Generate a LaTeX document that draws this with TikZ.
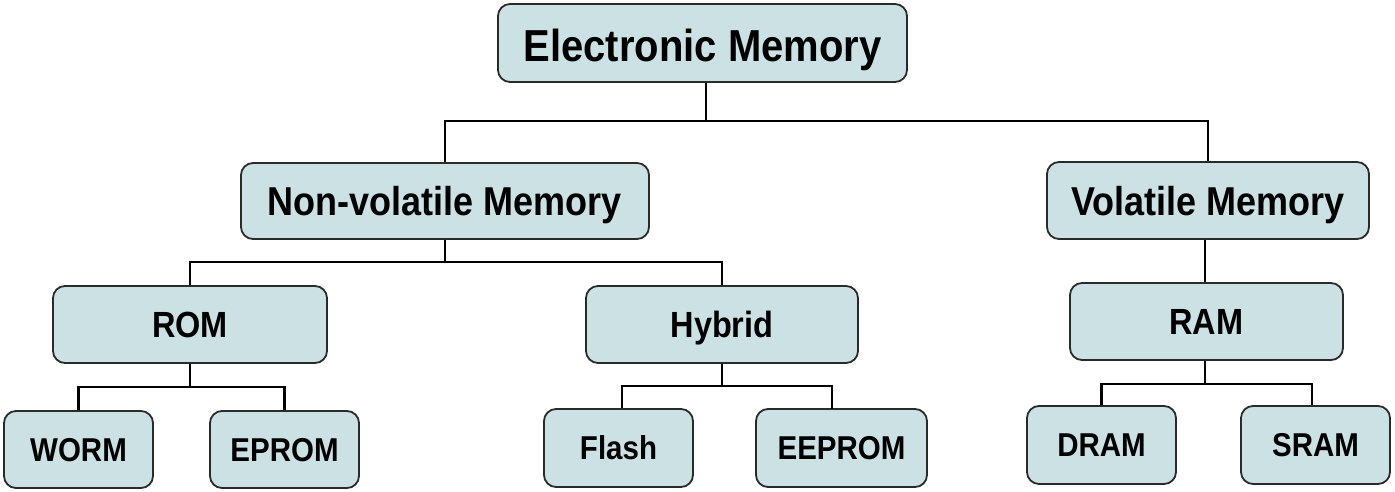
\documentclass[tikz,border=0pt]{standalone}
\usepackage{graphicx}
\usepackage{fontspec}
\setmainfont{Liberation Sans}
\definecolor{boxfill}{HTML}{CCE1E4}
\definecolor{boxline}{HTML}{2A2A2A}
\newcommand{\tallt}[1]{\scalebox{1}[1.12]{#1}}
\begin{document}
\begin{tikzpicture}[x=1pt,y=-1pt,
  box/.style={draw=boxline, fill=boxfill, line width=1.8pt, rounded corners=12pt,
    inner sep=0pt, align=center, text depth=0pt, font=\bfseries},
  lvlA/.style={box, font=\fontsize{40}{44}\selectfont\bfseries},
  lvlB/.style={box, font=\fontsize{36}{40}\selectfont\bfseries},
  lvlC/.style={box, font=\fontsize{32.5}{36}\selectfont\bfseries},
  lvlD/.style={box, font=\fontsize{29.5}{34}\selectfont\bfseries},
  conn/.style={draw=black, line width=2.2pt}]
\useasboundingbox (0,0) rectangle (1395,492);
\node[lvlA, minimum width=409pt, minimum height=78pt] (EM) at (702.5,43) {\raisebox{-5pt}{\tallt{Electronic Memory}}};
\node[lvlB, minimum width=408pt, minimum height=76pt] (NV) at (445,201) {\tallt{Non-volatile Memory}};
\node[lvlB, minimum width=322pt, minimum height=77pt] (VM) at (1208,200.5) {\tallt{Volatile Memory}};
\node[lvlC, minimum width=274pt, minimum height=77pt] (ROM) at (190,324.5) {\tallt{ROM}};
\node[lvlC, minimum width=272pt, minimum height=77pt] (HY) at (722,324.5) {\tallt{Hybrid}};
\node[lvlC, minimum width=273pt, minimum height=77pt] (RAM) at (1206.5,321.5) {\tallt{RAM}};
\node[lvlD, minimum width=149pt, minimum height=77pt] (WORM) at (78.5,449.5) {\tallt{WORM}};
\node[lvlD, minimum width=149pt, minimum height=77pt] (EPROM) at (284.5,449.5) {\tallt{EPROM}};
\node[lvlD, minimum width=149pt, minimum height=78pt] (FL) at (618.5,448) {\tallt{Flash}};
\node[lvlD, minimum width=171pt, minimum height=78pt] (EE) at (841.5,448) {\tallt{EEPROM}};
\node[lvlD, minimum width=149pt, minimum height=78pt] (DRAM) at (1101.5,445) {\tallt{DRAM}};
\node[lvlD, minimum width=149pt, minimum height=78pt] (SRAM) at (1315.5,445) {\tallt{SRAM}};
% bus coordinates
\coordinate (b1) at (706,121);
\coordinate (b2) at (446,262);
\coordinate (bR) at (191,387);
\coordinate (bH) at (723,386);
\coordinate (bM) at (1205,384);
\coordinate (eeTop) at (832,409);
% connectors
\draw[conn] (EM.south -| b1) -- (b1);
\draw[conn] (NV.north) |- (b1) -| (VM.north);
\draw[conn] (NV.south) -- (NV.south |- b2);
\draw[conn] (ROM.north) |- (b2) -| (HY.north);
\draw[conn] (VM.south -| bM) -- (RAM.north -| bM);
\draw[conn] (ROM.south) -- (ROM.south |- bR);
\draw[conn] (WORM.north) |- (bR) -| (EPROM.north);
\draw[conn] (HY.south) -- (HY.south |- bH);
\draw[conn] ([xshift=3.5pt]FL.north) |- (bH) -| (eeTop);
\draw[conn] (RAM.south -| bM) -- (bM);
\draw[conn] (DRAM.north) |- (bM) -| ([xshift=-3.5pt]SRAM.north);
\end{tikzpicture}
\end{document}
